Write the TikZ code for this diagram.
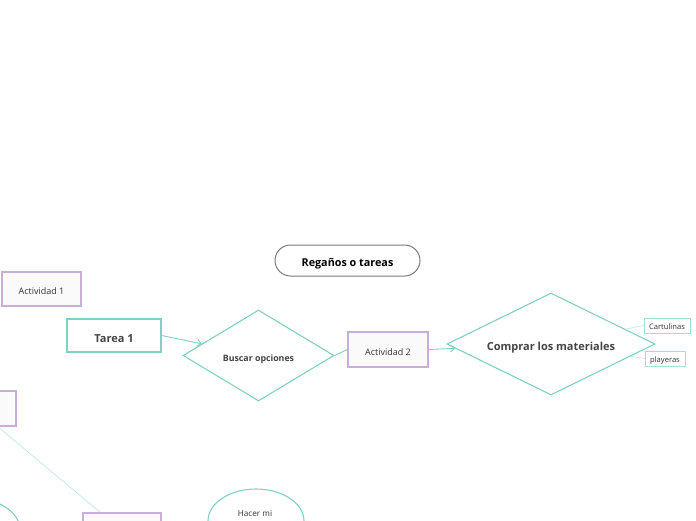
\documentclass[tikz,border=0pt]{standalone}
\usepackage{fontspec}
\setmainfont{Open Sans}
\usetikzlibrary{shapes.geometric,arrows.meta}
\definecolor{teal}{HTML}{80D0C6}
\definecolor{lteal}{HTML}{BDE8E2}
\definecolor{purp}{HTML}{C9AEDB}
\definecolor{dtext}{HTML}{444444}
\definecolor{rtext}{HTML}{333333}
\definecolor{gborder}{HTML}{7A7A7A}
\tikzset{
  purbox/.style={draw=purp,line width=1.1pt,fill=gray!4,rectangle,inner sep=0pt,text=rtext,font=\fontsize{9}{11}\selectfont,text height=11.4pt,text depth=0pt},
  tealbox/.style={draw=teal,line width=1.1pt,fill=white,rectangle,inner sep=0pt,text=dtext,font=\fontsize{11}{13}\selectfont\bfseries,text height=13.6pt,text depth=0pt},
  smallbox/.style={draw=teal!70,line width=0.6pt,fill=white,rectangle,inner sep=0pt,text=rtext,font=\fontsize{7.6}{9}\selectfont,text height=8.2pt,text depth=0pt},
  dia/.style={draw=teal,line width=1.1pt,fill=white,diamond,aspect=2,inner sep=0pt,text=dtext,text depth=0pt},
  ell/.style={draw=teal,line width=1.1pt,fill=white,ellipse,inner sep=0pt,text=rtext,font=\fontsize{8.2}{10}\selectfont},
  conn/.style={draw=teal,line width=0.9pt},
  arr/.style={conn,-{Straight Barb[length=4pt,width=7pt,line width=0.9pt]}}
}
\begin{document}
\begin{tikzpicture}[x=1pt,y=-1pt]
\useasboundingbox (0,0) rectangle (696,520);
\clip (0,0) rectangle (696,520);
\node[draw=gborder,line width=1pt,rounded corners=15.5pt,minimum width=145pt,minimum height=31pt,inner sep=0pt,text=black,font=\fontsize{10.8}{13}\selectfont\bfseries,text height=11.7pt,text depth=0pt] (root) at (347.5,260.5) {Regaños o tareas};
\node[purbox,minimum width=79pt,minimum height=34pt] (a1) at (41.5,289) {Actividad 1};
\node[tealbox,minimum width=94pt,minimum height=33pt] (t1) at (114,335.5) {Tarea 1};
\draw[draw=lteal,line width=0.7pt] (-24,408.5) -- (122,530.5);
\node[dia,minimum width=151pt,minimum height=91pt,font=\fontsize{8.8}{10}\selectfont\bfseries,text height=12.3pt] (bus) at (258.5,355.5) {Buscar opciones};
\node[purbox,minimum width=80pt,minimum height=35pt] (a2) at (388,349.5) {Actividad 2};
\node[dia,minimum width=208pt,minimum height=102pt,font=\fontsize{11}{13}\selectfont\bfseries,text height=13.9pt] (comp) at (551,344) {Comprar los materiales};
\node[smallbox,minimum width=46pt,minimum height=15pt] (cart) at (667,325.5) {Cartulinas};
\node[smallbox,minimum width=40pt,minimum height=15pt] (play) at (665,358.5) {playeras};
\node[purbox,minimum width=80pt,minimum height=35pt] (px) at (-24,408.5) {};
\node[purbox,minimum width=78pt,minimum height=35pt] (bx) at (122,530.5) {};
\node[ell,minimum width=96pt,minimum height=64pt] (hacer) at (256,521) {};
\node[text=rtext,font=\fontsize{8.2}{10}\selectfont] (hacert) at (255,514) {Hacer mi};
\node[ell,minimum width=96pt,minimum height=64pt] (e2) at (-28,530) {};
\draw[arr] (t1.east) -- (bus);
\draw[conn] (bus.east) -- (a2.west);
\draw[arr] (a2.east) -- (comp);
\draw[conn,draw=lteal,line width=0.6pt] (cart.west) -- (comp);
\draw[conn,draw=lteal,line width=0.6pt] (play.west) -- (comp);
\end{tikzpicture}
\end{document}
